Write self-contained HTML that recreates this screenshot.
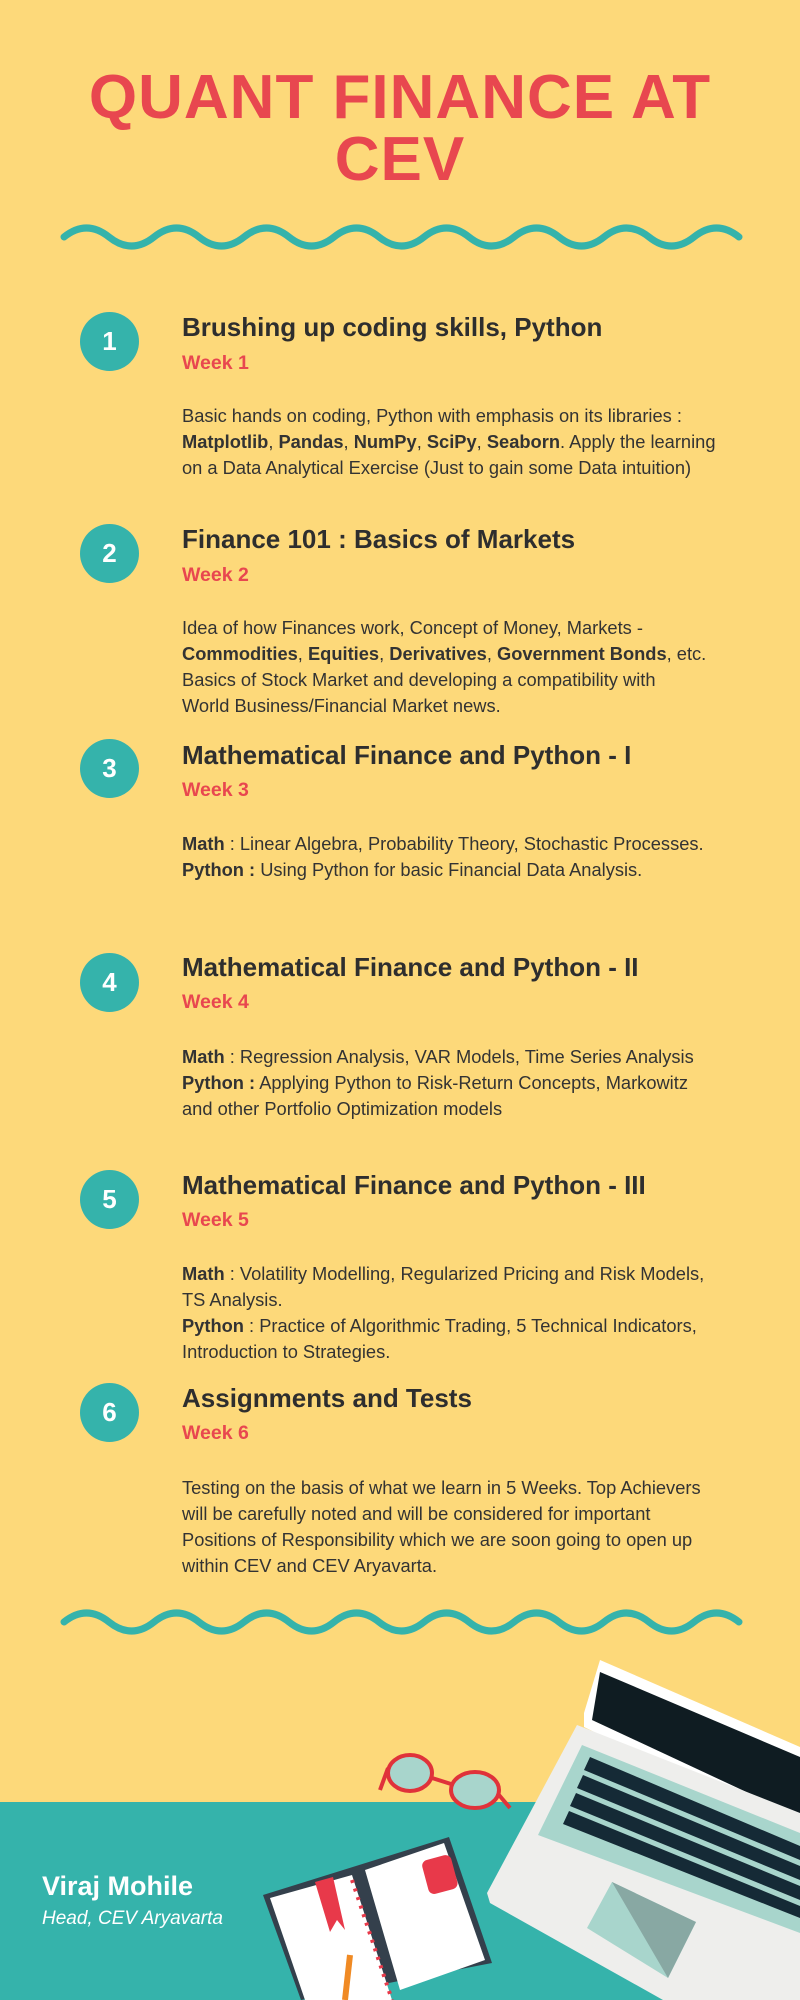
<!DOCTYPE html>
<html><head><meta charset="utf-8">
<style>
*{margin:0;padding:0;box-sizing:border-box}
body{width:800px;height:2000px;position:relative;overflow:hidden;background:#fdd97a;font-family:"Liberation Sans",sans-serif;color:#333}
.abs{position:absolute}
.title{left:0;width:800px;text-align:center;color:#e8474f;font-weight:bold;font-size:62px;line-height:64px;letter-spacing:1px}
.circ{width:59px;height:59px;border-radius:50%;background:#35b3ab;color:#fff;font-weight:bold;font-size:26px;line-height:59px;text-align:center;left:80px}
.h{left:182px;font-weight:bold;font-size:26px;line-height:30px;white-space:nowrap;color:#2e2e2e}
.w{left:182px;font-weight:bold;font-size:19.5px;line-height:24px;color:#e8474f}
.b{left:182px;font-size:18.3px;line-height:26px;white-space:nowrap;color:#333}
</style></head><body>
<div class="abs title" style="top:66px">QUANT FINANCE AT</div>
<div class="abs title" style="top:128px">CEV</div>

<svg class="abs" style="left:0;top:0" width="800" height="2000">
<path d="M64 232 q22.5 -18 45 0 t45 0 t45 0 t45 0 t45 0 t45 0 t45 0 t45 0 t45 0 t45 0 t45 0 t45 0 t45 0 t45 0 t45 0" transform="translate(0,5)" fill="none" stroke="#35b3ab" stroke-width="7" stroke-linecap="round"/>
<path d="M64 1617 q22.5 -18 45 0 t45 0 t45 0 t45 0 t45 0 t45 0 t45 0 t45 0 t45 0 t45 0 t45 0 t45 0 t45 0 t45 0 t45 0" transform="translate(0,5)" fill="none" stroke="#35b3ab" stroke-width="7" stroke-linecap="round"/>
<rect x="0" y="1802" width="800" height="198" fill="#35b3ab"/>
<g>
<polygon points="600,1660 800,1747 800,1833 584,1727 584,1713" fill="#fff"/>
<polygon points="600,1672 800,1757 800,1817 592,1720" fill="#0f1c22"/>
<polygon points="577,1725 800,1813 800,2000 663,2000 490,1903 487,1893" fill="#eeeeec"/>
<polygon points="582,1745 800,1833 800,1933 538,1835" fill="#a8d5cc"/>
<g fill="#152a36">
<polygon points="590,1757 800,1846 800,1860 584,1770"/>
<polygon points="583,1775 800,1866 800,1880 577,1788"/>
<polygon points="576,1793 800,1886 800,1900 570,1806"/>
<polygon points="569,1811 800,1906 800,1918 563,1824"/>
</g>
<polygon points="612,1882 696,1922 668,1978 587,1928" fill="#a8d5cc"/>
<polygon points="612,1882 696,1922 668,1978" fill="#88a8a3"/>
</g>
<g stroke="#e0323a" stroke-width="4" fill="#a8d5cc">
<ellipse cx="410" cy="1773" rx="22" ry="18"/>
<ellipse cx="475" cy="1790" rx="24" ry="18"/>
<line x1="432" y1="1778" x2="451" y2="1784"/>
<line x1="388" y1="1768" x2="380" y2="1790"/>
<line x1="499" y1="1795" x2="510" y2="1808"/>
</g>
<g>
<polygon points="263,1895 449,1837 492,1963 301,2000" fill="#34404c"/>
<polygon points="270,1898 352,1875 392,2000 305,2000" fill="#fff"/>
<polygon points="365,1870 444,1843 485,1960 400,1990" fill="#fff"/>
<rect x="425" y="1857" width="30" height="35" rx="6" fill="#e8394a" transform="rotate(-15 440 1875)"/>
<polygon points="315,1882 333,1877 345,1930 337,1920 330,1932" fill="#e8394a"/>
<line x1="352" y1="1880" x2="392" y2="2000" stroke="#e8394a" stroke-width="4" stroke-dasharray="3 6"/>
<line x1="350" y1="1955" x2="345" y2="2000" stroke="#f08a24" stroke-width="6"/>
</g>
</svg>

<div class="abs circ" style="top:312px">1</div>
<div class="abs h" style="top:312px">Brushing up coding skills, Python</div>
<div class="abs w" style="top:351px">Week 1</div>
<div class="abs b" style="top:403px">Basic hands on coding, Python with emphasis on its libraries :<br><b>Matplotlib</b>, <b>Pandas</b>, <b>NumPy</b>, <b>SciPy</b>, <b>Seaborn</b>. Apply the learning<br>on a Data Analytical Exercise (Just to gain some Data intuition)</div>

<div class="abs circ" style="top:524px">2</div>
<div class="abs h" style="top:524px">Finance 101 : Basics of Markets</div>
<div class="abs w" style="top:563px">Week 2</div>
<div class="abs b" style="top:615px">Idea of how Finances work, Concept of Money, Markets -<br><b>Commodities</b>, <b>Equities</b>, <b>Derivatives</b>, <b>Government Bonds</b>, etc.<br>Basics of Stock Market and developing a compatibility with<br>World Business/Financial Market news.</div>

<div class="abs circ" style="top:739px">3</div>
<div class="abs h" style="top:740px">Mathematical Finance and Python - I</div>
<div class="abs w" style="top:778px">Week 3</div>
<div class="abs b" style="top:831px"><b>Math</b> : Linear Algebra, Probability Theory, Stochastic Processes.<br><b>Python :</b> Using Python for basic Financial Data Analysis.</div>

<div class="abs circ" style="top:953px">4</div>
<div class="abs h" style="top:952px">Mathematical Finance and Python - II</div>
<div class="abs w" style="top:990px">Week 4</div>
<div class="abs b" style="top:1044px"><b>Math</b> : Regression Analysis, VAR Models, Time Series Analysis<br><b>Python :</b> Applying Python to Risk-Return Concepts, Markowitz<br>and other Portfolio Optimization models</div>

<div class="abs circ" style="top:1170px">5</div>
<div class="abs h" style="top:1170px">Mathematical Finance and Python - III</div>
<div class="abs w" style="top:1208px">Week 5</div>
<div class="abs b" style="top:1261px"><b>Math</b> : Volatility Modelling, Regularized Pricing and Risk Models,<br>TS Analysis.<br><b>Python</b> : Practice of Algorithmic Trading, 5 Technical Indicators,<br>Introduction to Strategies.</div>

<div class="abs circ" style="top:1383px">6</div>
<div class="abs h" style="top:1383px">Assignments and Tests</div>
<div class="abs w" style="top:1421px">Week 6</div>
<div class="abs b" style="top:1475px">Testing on the basis of what we learn in 5 Weeks. Top Achievers<br>will be carefully noted and will be considered for important<br>Positions of Responsibility which we are soon going to open up<br>within CEV and CEV Aryavarta.</div>

<div class="abs" style="left:42px;top:1871px;font-size:27px;font-weight:bold;color:#fff;line-height:30px">Viraj Mohile</div>
<div class="abs" style="left:42px;top:1908px;font-size:19px;font-style:italic;color:#fff;line-height:22px">Head, CEV Aryavarta</div>
</body></html>
